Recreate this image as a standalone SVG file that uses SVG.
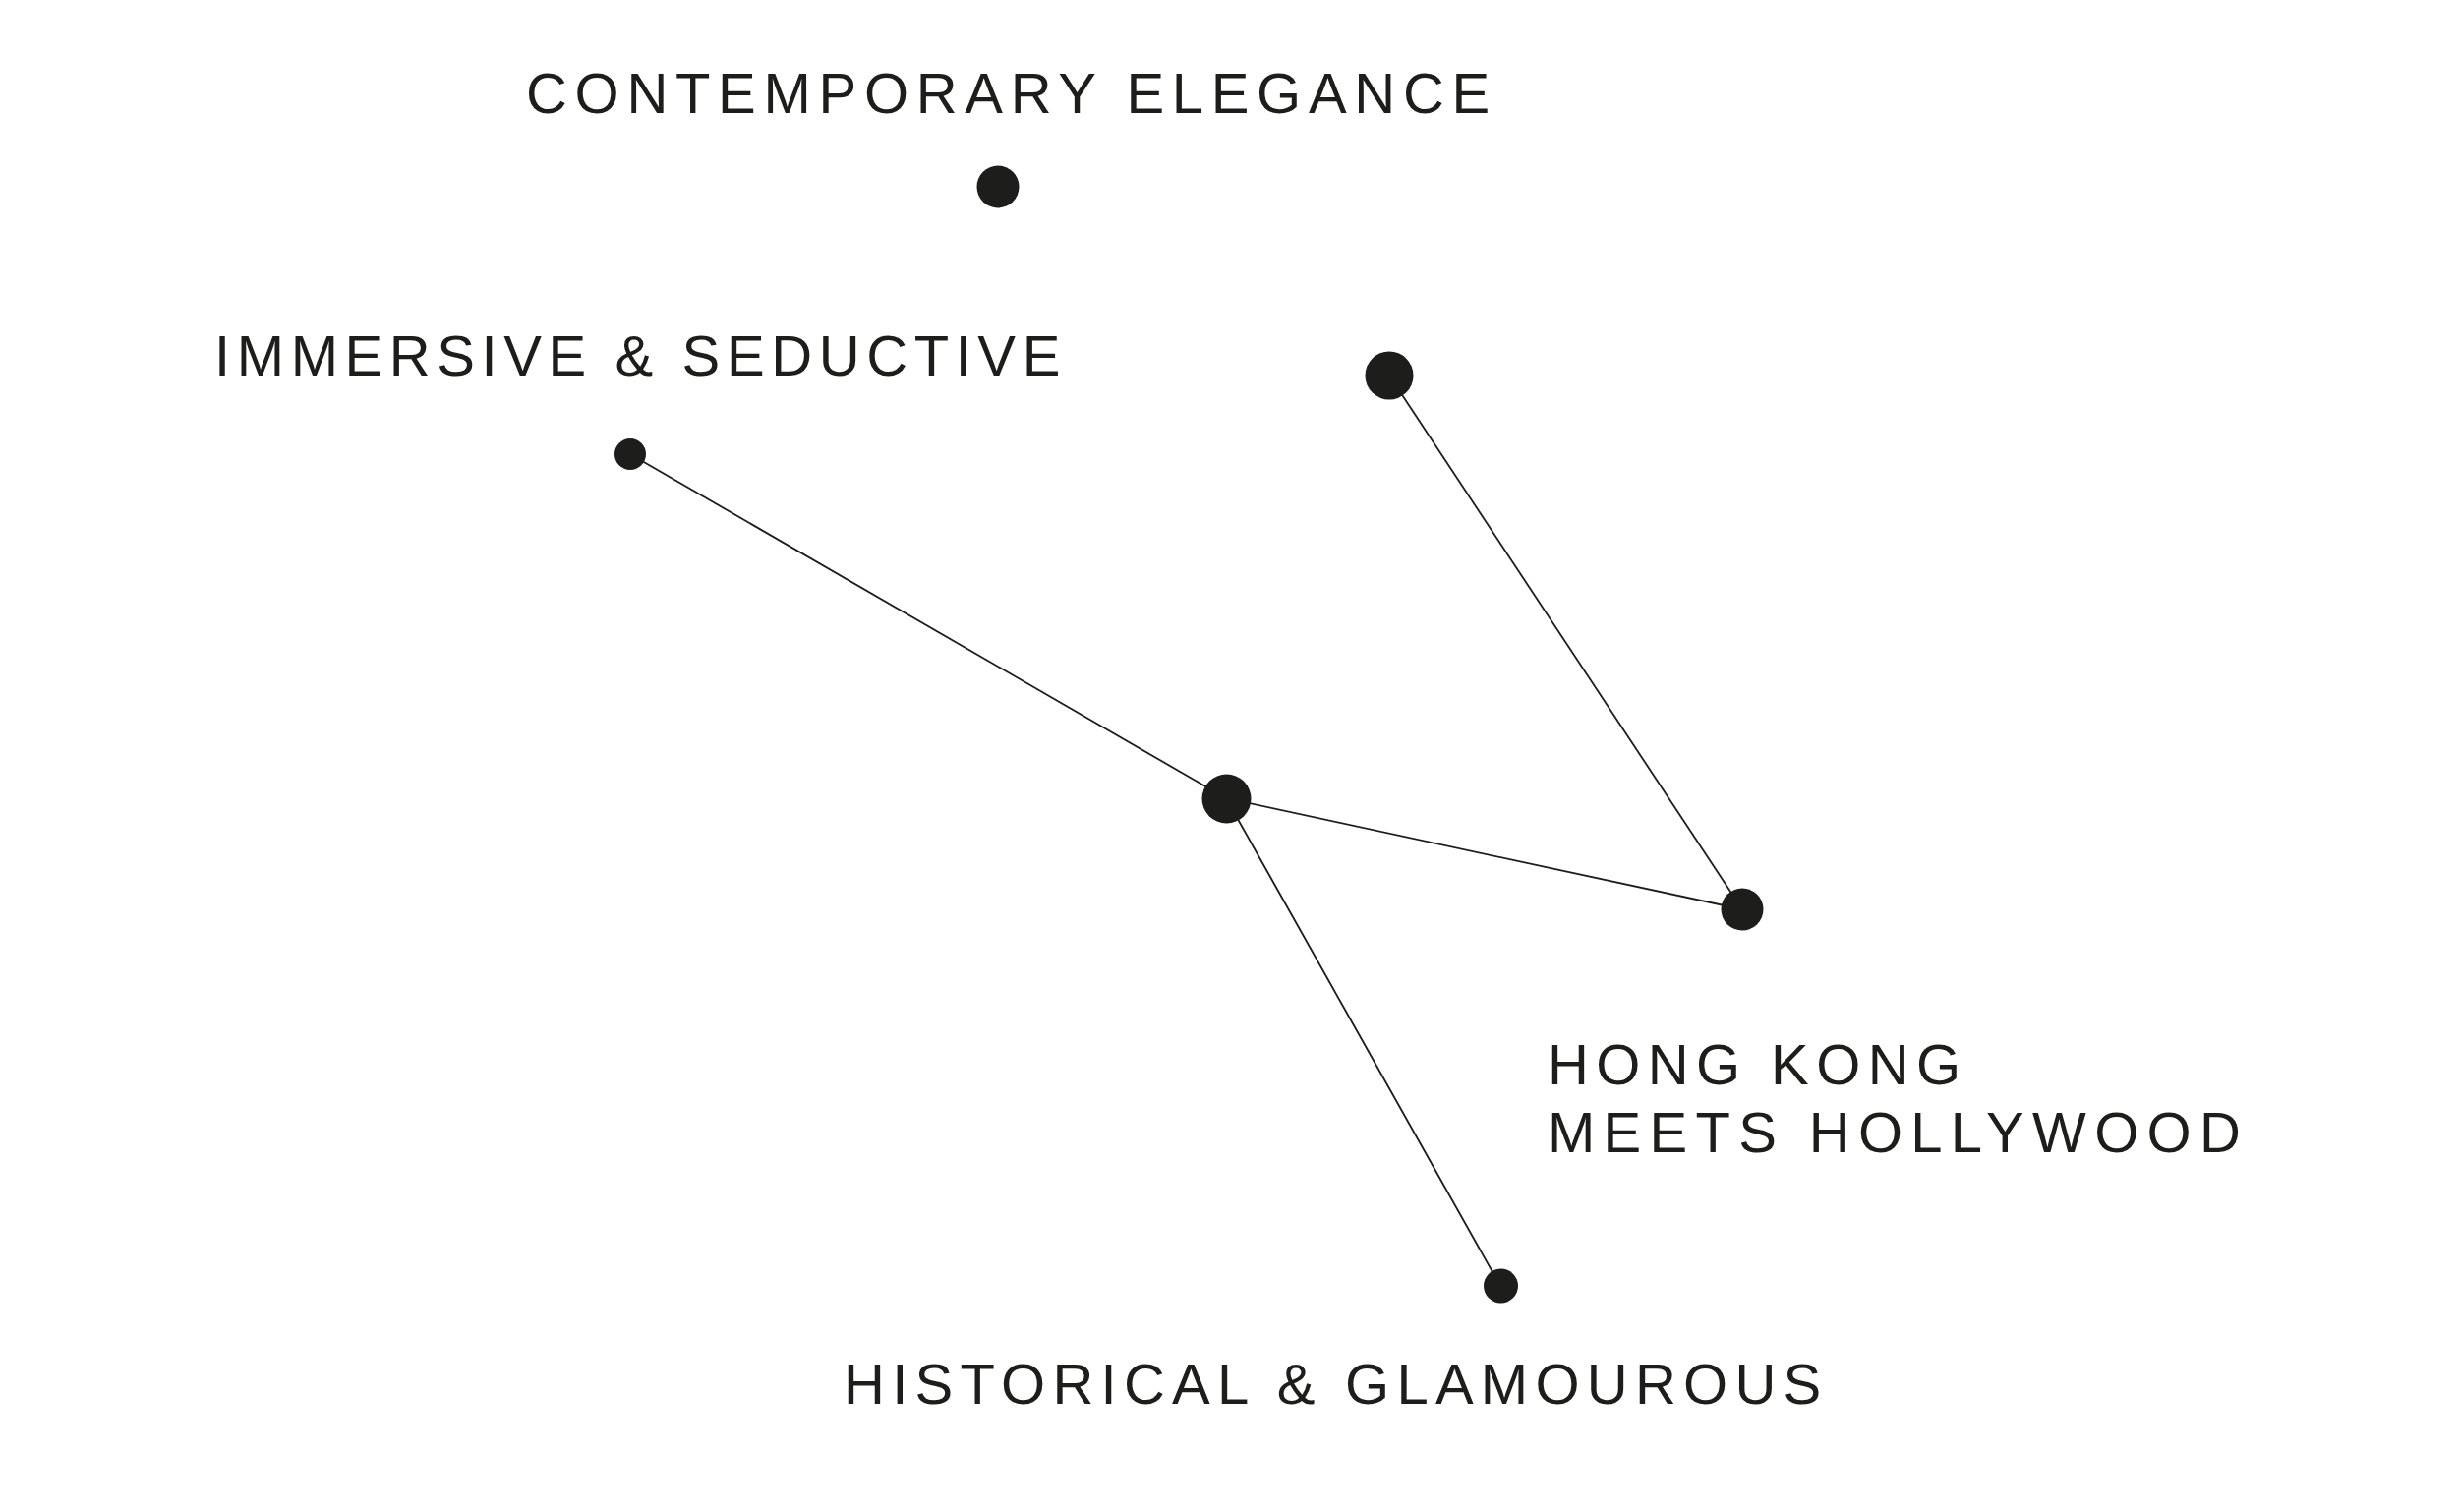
<svg xmlns="http://www.w3.org/2000/svg" width="2500" height="1538" viewBox="0 0 2500 1538">
<style>
.lbl{font-family:"Liberation Sans",Arial,sans-serif;font-size:58px;fill:#1d1d1b;letter-spacing:7.4px}
.dot{fill:#1d1d1b}
.edge{stroke:#1d1d1b;stroke-width:1.8;fill:none}
</style>
<rect width="2500" height="1538" fill="#ffffff"/>
<g id="connectors">
<line class="edge" x1="641" y1="462" x2="1247" y2="812"/>
<line class="edge" x1="1413" y1="382" x2="1772" y2="925"/>
<line class="edge" x1="1247" y1="812" x2="1772" y2="925"/>
<line class="edge" x1="1247" y1="812" x2="1526" y2="1308"/>
</g>
<g id="label-contemporary"><text class="lbl" x="535" y="115" style="letter-spacing:7.7px">CONTEMPORARY ELEGANCE</text></g>
<g id="label-immersive"><text class="lbl" x="218" y="382" style="letter-spacing:6.6px">IMMERSIVE &amp; SEDUCTIVE</text></g>
<g id="label-hongkong"><text class="lbl" x="1574" y="1103">HONG KONG</text><text class="lbl" x="1574" y="1172" style="letter-spacing:8.3px">MEETS HOLLYWOOD</text></g>
<g id="label-historical"><text class="lbl" x="858" y="1428" style="letter-spacing:7.25px">HISTORICAL &amp; GLAMOUROUS</text></g>
<g id="node-contemporary"><circle class="dot" cx="1015" cy="190" r="21.5"/></g>
<g id="node-top-right"><circle class="dot" cx="1413" cy="382" r="24.5"/></g>
<g id="node-immersive"><circle class="dot" cx="641" cy="462" r="16"/></g>
<g id="node-center"><circle class="dot" cx="1247.5" cy="812.5" r="25"/></g>
<g id="node-hongkong"><circle class="dot" cx="1772" cy="925" r="21.5"/></g>
<g id="node-historical"><circle class="dot" cx="1526.5" cy="1308" r="17.5"/></g>
</svg>
